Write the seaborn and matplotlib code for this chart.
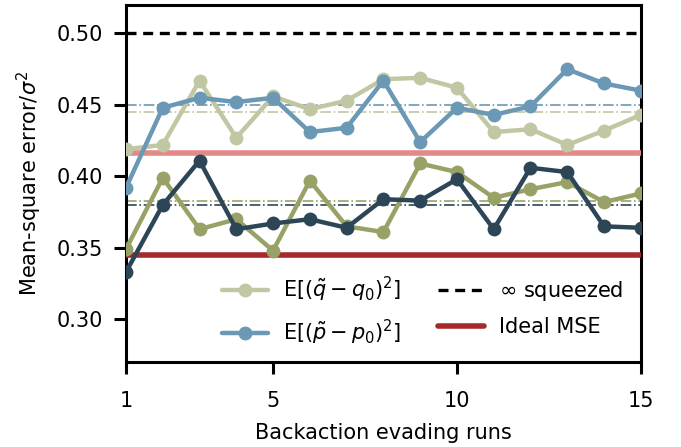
import numpy as np
import pandas as pd
import matplotlib
matplotlib.use("Agg")
import matplotlib.pyplot as plt
import seaborn as sns
from matplotlib.lines import Line2D

runs = list(range(1, 16))
q_sq = [0.419, 0.422, 0.467, 0.427, 0.456, 0.447, 0.453, 0.468, 0.469, 0.462, 0.431, 0.433, 0.422, 0.432, 0.443]
p_sq = [0.392, 0.448, 0.455, 0.452, 0.455, 0.431, 0.434, 0.467, 0.424, 0.448, 0.443, 0.449, 0.475, 0.465, 0.460]
q_be = [0.349, 0.399, 0.363, 0.370, 0.348, 0.397, 0.365, 0.361, 0.409, 0.403, 0.385, 0.391, 0.396, 0.382, 0.388]
p_be = [0.333, 0.380, 0.411, 0.363, 0.367, 0.370, 0.364, 0.384, 0.383, 0.398, 0.363, 0.406, 0.403, 0.365, 0.364]

mean_q_sq = 0.445
mean_p_sq = 0.450
mean_q_be = 0.383
mean_p_be = 0.380
inf_squeezed = 0.50
ideal_upper = 0.4166
ideal_mse = 0.345

labels = [r"E$[(\tilde{q}-q_0)^2]$", r"E$[(\tilde{p}-p_0)^2]$", r"$\infty$ squeezed", "Ideal MSE"]
xticks = [1, 5, 10, 15]
yticks = [0.30, 0.35, 0.40, 0.45, 0.50]

c_sage = "#c2c7a3"
c_blue = "#6b98b4"
c_olive = "#99a266"
c_dark = "#2d4657"
c_lred = "#e3898a"
c_dred = "#a6292b"

sns.set_style("white")
plt.rcParams["font.family"] = ["DejaVu Sans"]
plt.rcParams["mathtext.fontset"] = "dejavusans"
for k in ["text.color", "axes.labelcolor", "xtick.color", "ytick.color"]:
    plt.rcParams[k] = "black"

fig = plt.figure(figsize=(6.81, 4.47), dpi=100)
ax = fig.add_axes([0.185, 0.19, 0.756, 0.799])

series = [("q_sq", q_sq, c_sage), ("p_sq", p_sq, c_blue),
          ("q_be", q_be, c_olive), ("p_be", p_be, c_dark)]
for name, vals, col in series:
    df = pd.DataFrame({"run": runs, "mse": vals})
    sns.lineplot(data=df, x="run", y="mse", ax=ax, color=col, marker="o",
                 markersize=10, markeredgewidth=0, linewidth=3.2, zorder=4)

for val, col in [(mean_q_sq, c_sage), (mean_p_sq, c_blue),
                 (mean_q_be, c_olive), (mean_p_be, c_dark)]:
    ax.axhline(val, color=col, lw=1.2, ls="-.", zorder=2)

ax.axhline(inf_squeezed, color="black", lw=2.4, ls=(0, (3, 2)), zorder=3)
ax.axhline(ideal_upper, color=c_lred, lw=4, zorder=3)
ax.axhline(ideal_mse, color=c_dred, lw=4, zorder=3)

ax.set_xlim(1, 15)
ax.set_ylim(0.27, 0.52)
ax.set_xticks(xticks)
ax.set_xticklabels([str(t) for t in xticks])
ax.set_yticks(yticks)
ax.set_yticklabels([f"{t:.2f}" for t in yticks])
ax.set_xlabel("Backaction evading runs", fontsize=15, labelpad=9)
ax.set_ylabel(r"Mean-square error/$\sigma^2$", fontsize=15, labelpad=9)
ax.tick_params(axis="both", labelsize=15, length=8.5, width=2.2, direction="out",
               bottom=True, left=True)
ax.tick_params(axis="x", pad=12)
ax.tick_params(axis="y", pad=8)
for s in ax.spines.values():
    s.set_linewidth(2.2)
    s.set_color("black")

handles = [
    Line2D([], [], color=c_sage, marker="o", markersize=10, markeredgewidth=0, lw=3.2),
    Line2D([], [], color=c_blue, marker="o", markersize=10, markeredgewidth=0, lw=3.2),
    Line2D([], [], color="black", lw=2.4, ls=(0, (3, 2))),
    Line2D([], [], color=c_dred, lw=4),
]
ax.legend(handles, labels, ncol=2, frameon=False, fontsize=15,
          loc="center left", bbox_to_anchor=(0.15, 0.143), handlelength=2.2,
          handletextpad=0.72, columnspacing=1.8, labelspacing=0.65)

fig.savefig("out.png", dpi=100)
